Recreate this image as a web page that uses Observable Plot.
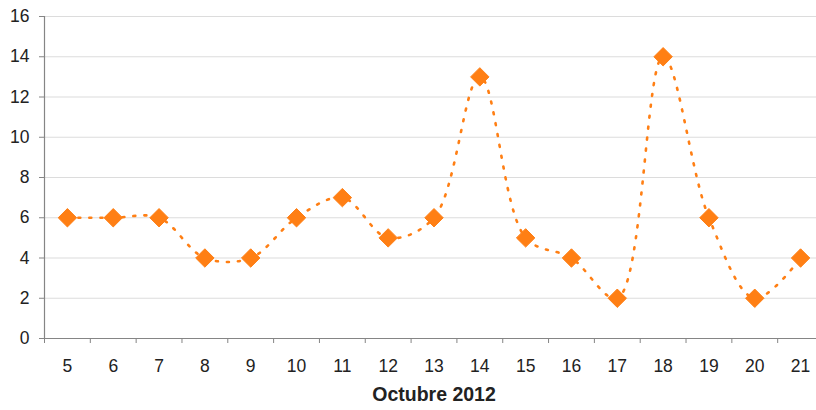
<!DOCTYPE html>
<html><head><meta charset="utf-8">
<script src="https://cdn.jsdelivr.net/npm/d3@7"></script>
<script src="https://cdn.jsdelivr.net/npm/@observablehq/plot@0.6"></script>
<style>
body{margin:0;background:#fff;overflow:hidden;}
#chart svg{overflow:visible;}
</style>
</head><body><div id="chart"></div>
<script>
const days = [5,6,7,8,9,10,11,12,13,14,15,16,17,18,19,20,21];
const counts = [6,6,6,4,4,6,7,5,6,13,5,4,2,14,6,2,4];
const yTicks = [0,2,4,6,8,10,12,14,16];
const xTitle = "Octubre 2012";

const data = days.map((d,i)=>({day:d, count:counts[i]}));
const bounds = [days[0]-0.5, ...days.map(d=>d+0.5)];
const orange = "#ff7f14";
const axisGray = "#858585";

const chart = Plot.plot({
  width: 816, height: 410,
  marginTop: 16, marginBottom: 72, marginLeft: 44, marginRight: -7,
  style: {fontFamily: "'Liberation Sans', Arial, sans-serif", fontSize: "17.5px", color: "#222", background: "#fff"},
  x: {domain: [bounds[0], bounds[bounds.length-1]]},
  y: {domain: [0,16]},
  marks: [
    Plot.gridY(yTicks.filter(t=>t>0), {stroke: "#dcdcdc", strokeOpacity: 1, strokeWidth: 1.2}),
    Plot.axisY(yTicks, {tickSize: 5, tickPadding: 10, stroke: axisGray, label: null, fontSize: 17.5, fill: "#222"}),
    Plot.axisX(days, {tickSize: 0, tickPadding: 21, label: null, fontSize: 17.5, fill: "#222"}),
    Plot.axisX(bounds, {tickSize: 5, tickFormat: () => "", stroke: axisGray, label: null}),
    Plot.ruleY([0], {stroke: axisGray, strokeWidth: 1.2}),
    Plot.ruleX([bounds[0]], {y1: 0, y2: 16, stroke: axisGray, strokeWidth: 1.2}),
    Plot.line(data, {x: "day", y: "count", curve: "catmull-rom", stroke: orange, strokeWidth: 2.6, strokeDasharray: "2,9", strokeLinecap: "round"}),
    Plot.dot(data, {x: "day", y: "count", symbol: "diamond2", r: 8.3, fill: orange, stroke: orange, strokeWidth: 1, strokeLinejoin: "round"}),
    Plot.text([xTitle], {frameAnchor: "bottom", dy: 62, fontWeight: "bold", fontSize: 19.5, fill: "#222"})
  ]
});
document.getElementById("chart").append(chart);
</script>
</body></html>
